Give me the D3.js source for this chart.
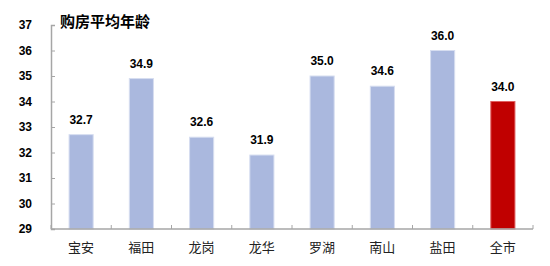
<!DOCTYPE html>
<html>
<head>
<meta charset="utf-8">
<script src="https://cdn.jsdelivr.net/npm/d3@7"></script>
<style>
  body { margin: 0; background: #fff; }
  text { font-family: "Liberation Sans", "Noto Sans CJK SC", sans-serif; }
</style>
</head>
<body>
<script>
// 购房平均年龄 by district
var districts = ["宝安", "福田", "龙岗", "龙华", "罗湖", "南山", "盐田", "全市"];
var avgAge = [32.7, 34.9, 32.6, 31.9, 35.0, 34.6, 36.0, 34.0];
var yTicks = [29, 30, 31, 32, 33, 34, 35, 36, 37];

var svg = d3.select("body").append("svg")
            .attr("width", 550)
            .attr("height", 266);

var x = d3.scaleBand()
          .domain(districts)
          .range([51, 533])
          .paddingInner(0.6)
          .paddingOuter(0.3);

var y = d3.scaleLinear()
          .domain([29, 37])
          .range([229, 25]);

var axisColor = "#a6a6a6";

// y axis
var yAxis = svg.append("g")
               .attr("transform", "translate(51,0)")
               .call(d3.axisRight(y).tickValues(yTicks).tickSize(4).tickFormat(""));
yAxis.select(".domain").attr("stroke", axisColor).attr("stroke-width", 1.5);
yAxis.selectAll(".tick line").attr("stroke", axisColor);

svg.selectAll("text.ylab")
   .data(yTicks)
   .enter()
   .append("text")
   .attr("class", "ylab")
   .attr("x", 32)
   .attr("y", function (d) { return y(d) + 4; })
   .attr("text-anchor", "end")
   .style("font-size", "12px")
   .style("font-weight", "bold")
   .text(function (d) { return d; });

// bars
svg.selectAll("rect.bar")
   .data(avgAge)
   .enter()
   .append("rect")
   .attr("class", "bar")
   .attr("x", function (d, i) { return x(districts[i]); })
   .attr("y", function (d) { return y(d); })
   .attr("width", x.bandwidth())
   .attr("height", function (d) { return y(29) - y(d); })
   .style("fill", function (d, i) { return i == districts.length - 1 ? "#c00000" : "#aab8de"; })
   .style("stroke", function (d, i) { return i == districts.length - 1 ? "#e06060" : "#d6ddf0"; })
   .style("stroke-width", 1);

// x axis
var xBoundaries = d3.range(districts.length + 1);
var step = (533 - 51) / districts.length;
svg.append("line")
   .attr("x1", 51).attr("x2", 533)
   .attr("y1", y(29)).attr("y2", y(29))
   .attr("stroke", axisColor).attr("stroke-width", 1.5);
svg.selectAll("line.xtick")
   .data(xBoundaries)
   .enter()
   .append("line")
   .attr("class", "xtick")
   .attr("x1", function (d) { return 51 + d * step; })
   .attr("x2", function (d) { return 51 + d * step; })
   .attr("y1", y(29)).attr("y2", y(29) - 4)
   .attr("stroke", axisColor);

svg.selectAll("text.xlab")
   .data(districts)
   .enter()
   .append("text")
   .attr("class", "xlab")
   .attr("x", function (d) { return x(d) + x.bandwidth() / 2; })
   .attr("y", 252)
   .attr("text-anchor", "middle")
   .style("font-family", "Noto Sans CJK SC")
   .style("font-size", "13px")
   .style("fill", "#222")
   .text(function (d) { return d; });

// value labels
svg.selectAll("text.val")
   .data(avgAge)
   .enter()
   .append("text")
   .attr("class", "val")
   .attr("x", function (d, i) { return x(districts[i]) + x.bandwidth() / 2; })
   .attr("y", function (d) { return y(d) - 11; })
   .attr("text-anchor", "middle")
   .style("font-size", "12px")
   .style("font-weight", "bold")
   .text(function (d) { return d.toFixed(1); });

// title
svg.append("text")
   .attr("x", 60)
   .attr("y", 27)
   .style("font-family", "Noto Sans CJK SC")
   .style("font-size", "15px")
   .style("font-weight", "bold")
   .text("购房平均年龄");
</script>
</body>
</html>
